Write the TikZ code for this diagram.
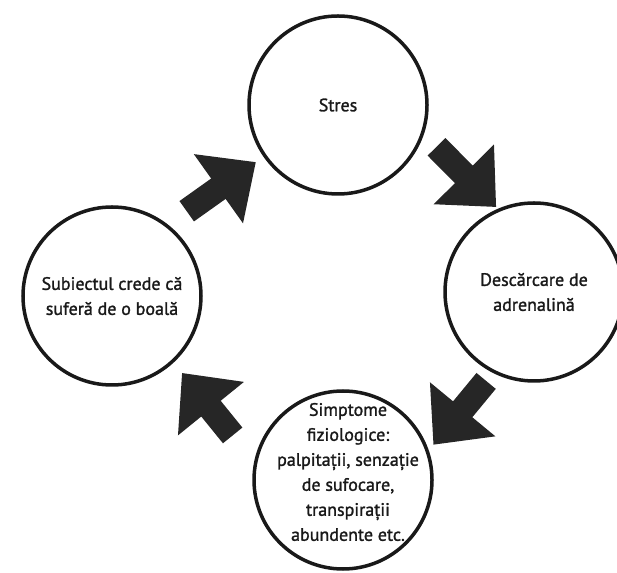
\documentclass[tikz,border=0pt]{standalone}
\usepackage{fontspec}
\setmainfont{PT Sans}
\newfontfamily\phasefont{PT Sans}[FakeBold=1.4]
\usepackage{tikz}
\usetikzlibrary{calc,arrows.meta}

\begin{document}
\begin{tikzpicture}[x=1pt,y=1pt,
        txt/.style={font=\phasefont\fontsize{18}{25}\selectfont, text=black!90, align=center},
        phase/.style={circle, draw=black!90, line width=3.5pt, minimum size=178pt, txt},
        flow/.style={draw=black!85, line width=25pt, -{Triangle[length=46pt,width=82pt]}}]
            \useasboundingbox (0,0) rectangle (617,572);

            \node[phase] (stres) at (338,467) {Stres};
            \node[phase] (adrenalina) at (534,280) {Descărcare de\\adrenalină};
            \node[phase, label={[txt, xshift=5pt, yshift=8pt]center:{Simptome\\fiziologice:\\palpitații, senzație\\de sufocare,\\transpirații\\abundente etc.}}] (simptome) at (343,92) {};
            \node[phase] (boala) at (112,276) {Subiectul crede că\\suferă de o boală};

            \draw[flow] ([shift={(48.6:113)}]boala.center) -- ([shift={(214.8:100)}]stres.center);
            \draw[flow] ([shift={(-23:107)}]stres.center) -- ([shift={(114:93)}]adrenalina.center);
            \draw[flow] ([shift={(241.7:101)}]adrenalina.center) -- ([shift={(21.3:97)}]simptome.center);
            \draw[flow] ([shift={(158:119)}]simptome.center) -- ([shift={(-47.7:104)}]boala.center);
        \end{tikzpicture}
\end{document}
